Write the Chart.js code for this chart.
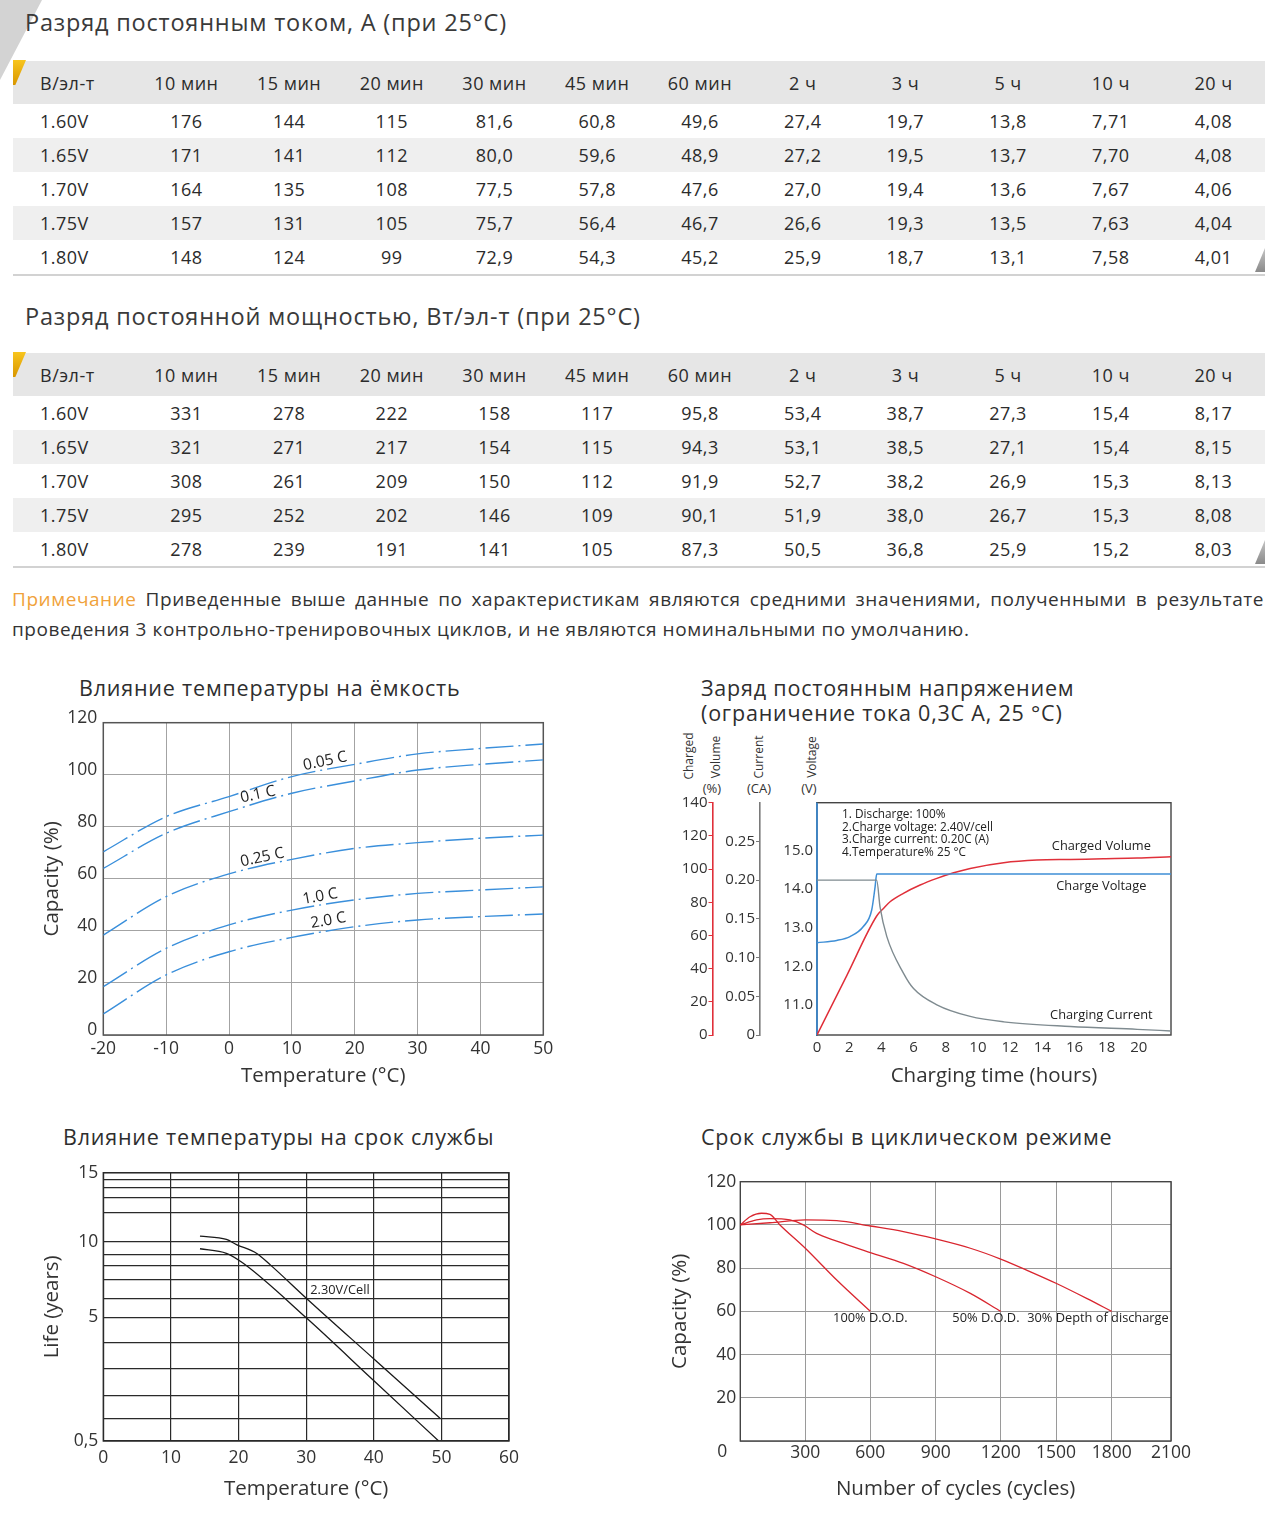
<!DOCTYPE html>
<html><head><meta charset="utf-8">
<script src="https://cdn.jsdelivr.net/npm/chart.js@4"></script>
<style>
body{margin:0;background:#fff;font-family:'Open Sans',sans-serif;color:#333;}
#page{position:relative;width:1280px;height:1520px;overflow:hidden;}
.abs{position:absolute;white-space:nowrap;}
.ttl{font-size:23.5px;line-height:26px;color:#3a3a3a;letter-spacing:0.8px;}
.ctitle{font-size:21.5px;line-height:25px;color:#2e2e2e;letter-spacing:0.8px;}
.tbl{position:absolute;left:13px;width:1252px;}
.tbl table{width:1252px;border-collapse:collapse;table-layout:fixed;font-size:18px;color:#2b2b2b;letter-spacing:0.5px;}
.tbl th{background:#e6e6e6;font-weight:400;height:43px;padding:0;text-align:center;}
.tbl td{height:34px;padding:0;text-align:center;}
.tbl tbody tr:nth-child(even) td{background:#efefef;}
.tbl .c0{text-align:left;padding-left:27px;}
.tbl tbody tr:last-child td{border-bottom:2px solid #d2d2d2;}
.note{position:absolute;left:12px;width:1252px;font-size:19px;line-height:30px;color:#333;letter-spacing:0.55px;}
.rot{position:absolute;font-size:12px;color:#333;transform:translate(-50%,-50%) rotate(-90deg);white-space:nowrap;}
.unit{position:absolute;font-size:13px;color:#333;transform:translate(-50%,-50%);white-space:nowrap;}
</style>
</head><body>
<div id="page">
  <div class="abs" style="left:0;top:0;width:42px;height:80px;background:#d3d3d3;clip-path:polygon(0 0,100% 0,0 100%);"></div>
  <div class="abs ttl" style="left:25px;top:9px;">Разряд постоянным током, А (при 25°С)</div>
  <div class="tbl" id="t1" style="top:61px;"></div>
  <div class="abs" style="left:13px;top:60px;width:13px;height:25px;background:linear-gradient(#f8c51e,#d89600);clip-path:polygon(0 0,100% 0,18% 100%,0 100%);"></div>
  <div class="abs" style="left:1255px;top:248px;width:10px;height:24px;background:linear-gradient(#c4c4c4,#8a8a8a);clip-path:polygon(100% 0,100% 100%,0 100%);"></div>

  <div class="abs ttl" style="left:25px;top:303px;">Разряд постоянной мощностью, Вт/эл-т (при 25°С)</div>
  <div class="tbl" id="t2" style="top:353px;"></div>
  <div class="abs" style="left:13px;top:352px;width:13px;height:25px;background:linear-gradient(#f8c51e,#d89600);clip-path:polygon(0 0,100% 0,18% 100%,0 100%);"></div>
  <div class="abs" style="left:1255px;top:540px;width:10px;height:24px;background:linear-gradient(#c4c4c4,#8a8a8a);clip-path:polygon(100% 0,100% 100%,0 100%);"></div>

  <div class="note" style="top:584px;text-align:justify;text-align-last:justify;"><span style="color:#f0a23a;">Примечание</span> Приведенные выше данные по характеристикам являются средними значениями, полученными в результате</div>
  <div class="note" style="top:614px;">проведения 3 контрольно-тренировочных циклов, и не являются номинальными по умолчанию.</div>

  <div class="abs ctitle" style="left:79px;top:675px;">Влияние температуры на ёмкость</div>
  <div class="abs" style="left:0;top:700px;"><canvas id="c1" width="600" height="400"></canvas></div>

  <div class="abs ctitle" style="left:701px;top:675px;">Заряд постоянным напряжением</div>
  <div class="abs ctitle" style="left:701px;top:700px;">(ограничение тока 0,3С А, 25 °С)</div>
  <div class="rot" style="left:688px;top:756px;">Charged</div>
  <div class="rot" style="left:715px;top:757px;">Volume</div>
  <div class="unit" style="left:712px;top:788px;">(%)</div>
  <div class="rot" style="left:758px;top:757px;">Current</div>
  <div class="unit" style="left:759px;top:788px;">(CA)</div>
  <div class="rot" style="left:811px;top:757px;">Voltage</div>
  <div class="unit" style="left:809px;top:788px;">(V)</div>
  <div class="abs" style="left:670px;top:725px;"><canvas id="c2" width="520" height="375"></canvas></div>

  <div class="abs ctitle" style="left:63px;top:1124px;">Влияние температуры на срок службы</div>
  <div class="abs" style="left:0;top:1150px;"><canvas id="c3" width="600" height="370"></canvas></div>

  <div class="abs ctitle" style="left:701px;top:1124px;">Срок службы в циклическом режиме</div>
  <div class="abs" style="left:640px;top:1150px;"><canvas id="c4" width="560" height="370"></canvas></div>
</div>
<script>
// ---------- table data ----------
const tableCols = ['В/эл-т','10 мин','15 мин','20 мин','30 мин','45 мин','60 мин','2 ч','3 ч','5 ч','10 ч','20 ч'];
const voltRows = ['1.60V','1.65V','1.70V','1.75V','1.80V'];
const currentTable = [
 ['176','144','115','81,6','60,8','49,6','27,4','19,7','13,8','7,71','4,08'],
 ['171','141','112','80,0','59,6','48,9','27,2','19,5','13,7','7,70','4,08'],
 ['164','135','108','77,5','57,8','47,6','27,0','19,4','13,6','7,67','4,06'],
 ['157','131','105','75,7','56,4','46,7','26,6','19,3','13,5','7,63','4,04'],
 ['148','124','99','72,9','54,3','45,2','25,9','18,7','13,1','7,58','4,01']];
const powerTable = [
 ['331','278','222','158','117','95,8','53,4','38,7','27,3','15,4','8,17'],
 ['321','271','217','154','115','94,3','53,1','38,5','27,1','15,4','8,15'],
 ['308','261','209','150','112','91,9','52,7','38,2','26,9','15,3','8,13'],
 ['295','252','202','146','109','90,1','51,9','38,0','26,7','15,3','8,08'],
 ['278','239','191','141','105','87,3','50,5','36,8','25,9','15,2','8,03']];

// ---------- chart 1: capacity vs temperature ----------
const tempC = [-20,-10,0,10,20,30,40,50];
const cap005 = [70.4,83.9,91.6,99.3,104.0,108.0,110.1,111.8];
const cap01  = [64.0,77.5,85.8,92.9,97.6,101.8,104.0,105.7];
const cap025 = [38.4,53.2,61.9,67.5,71.7,73.9,75.6,76.8];
const cap10  = [18.6,33.3,42.3,48.0,51.9,54.4,55.7,56.9];
const cap20  = [8.1,23.1,32.0,37.5,41.6,44.2,45.5,46.5];

// ---------- chart 2: constant voltage charge ----------
const chgT   = [0,1.85,3.71,4.13,4.54,5.37,6.41,7.45,8.49,9.52,11.6,13.67,15.75,17.8,19.9,22];
const chgVol = [0,35.8,71.7,76.3,80.3,85.4,90.4,94.4,97.8,100.4,103.8,105.4,105.8,106.2,106.6,107.4];
const voltT  = [0,1.22,2.05,2.88,3.4,3.61,3.71,22];
const voltV  = [12.61,12.67,12.77,13.03,13.46,14.06,14.39,14.39];
const curT   = [0,3.71,3.92,4.34,5.37,6.0,7.45,9.52,11.6,15.75,19.9,22];
const curA   = [0.2,0.2,0.165,0.127,0.08,0.06,0.039,0.024,0.017,0.011,0.0073,0.0052];
const volTicks = [0,20,40,60,80,100,120,140];
const curTicks = [0,0.05,0.10,0.15,0.20,0.25];
const vTicks   = [11,12,13,14,15];

// ---------- chart 3: life vs temperature ----------
const lifeUpperT = [14.3,18.2,19.7,22.7,24.7,30.1,39.9,49.8];
const lifeUpper  = [10.2,10.09,9.8,9.1,8.1,6.0,3.4,1.0];
const lifeLowerT = [14.3,18.2,20.7,30.1,39.9,49.6];
const lifeLower  = [9.47,9.11,8.24,4.96,2.58,0.5];
const lifeGrid   = [0.5,1,2,3,4,5,6,7,8,9,10,11,12,13,14,15];
const lifeLabels = {15:'15',10:'10',5:'5',0.5:'0,5'};

// ---------- chart 4: cycle life ----------
const dod100X = [0,45,98,137,183,300,445,600];
const dod100Y = [100,103.8,105.4,104.9,100,89.2,74.5,60];
const dod50X  = [0,75,137,229,291,352,445,600,752,900,1060,1200];
const dod50Y  = [100,102.3,102.9,102.3,100,96.1,92.5,87.2,82.2,76,68.3,60];
const dod30X  = [0,137,300,445,600,752,900,1060,1200,1359,1500,1665,1800];
const dod30Y  = [100,101,102.3,102,99.5,96.9,93.5,89.2,84.2,78.4,73,66,60];
const cycleTicks = [0,300,600,900,1200,1500,1800,2100];

// ---------- tables ----------
function buildTable(id, rows){
  let h = '<table><colgroup><col style="width:122px">' + tableCols.slice(1).map(()=>'<col>').join('') + '</colgroup><thead><tr>';
  tableCols.forEach((c,i)=>{ h += '<th class="'+(i===0?'c0':'')+'">'+c+'</th>'; });
  h += '</tr></thead><tbody>';
  rows.forEach((r,ri)=>{ h += '<tr><td class="c0">'+voltRows[ri]+'</td>' + r.map(v=>'<td>'+v+'</td>').join('') + '</tr>'; });
  h += '</tbody></table>';
  document.getElementById(id).innerHTML = h;
}
buildTable('t1', currentTable);
buildTable('t2', powerTable);

// ---------- Chart.js setup ----------
Chart.defaults.font.family = "'Open Sans', sans-serif";
Chart.defaults.color = '#333';

const pieceMaps = {};
class PiecewiseScale extends Chart.LinearScale {
  static id = 'piecewise';
  static defaults = {};
  _map(){ return pieceMaps[this.chart.canvas.id + ':' + this.id]; }
  _dec(v){
    const m = this._map(), b = m.values, f = m.fracs, n = b.length - 1;
    let i = 1;
    while (i < n && v > b[i]) i++;
    return f[i-1] + (v - b[i-1]) / (b[i] - b[i-1]) * (f[i] - f[i-1]);
  }
  getPixelForValue(v){ if (v === null || v === undefined) return NaN; return this.getPixelForDecimal(this._dec(v)); }
  getValueForPixel(p){
    const d = this.getDecimalForPixel(p), m = this._map(), b = m.values, f = m.fracs, n = b.length - 1;
    let i = 1;
    while (i < n && d > f[i]) i++;
    return b[i-1] + (d - f[i-1]) / (f[i] - f[i-1]) * (b[i] - b[i-1]);
  }
}
Chart.register(PiecewiseScale);

function xy(xs, ys){ return xs.map((x,i)=>({x:x, y:ys[i]})); }

function framePlugin(color, width, leftColor){
  return { id:'frame', beforeDatasetsDraw(chart){
    const {ctx, chartArea:a} = chart;
    ctx.save(); ctx.strokeStyle = color; ctx.lineWidth = width;
    ctx.strokeRect(a.left, a.top, a.right-a.left, a.bottom-a.top);
    if (leftColor){ ctx.strokeStyle = leftColor; ctx.lineWidth = 1.6; ctx.beginPath(); ctx.moveTo(a.left, a.top); ctx.lineTo(a.left, a.bottom); ctx.stroke(); }
    ctx.restore();
  }};
}
function textPlugin(items){
  return { id:'notes', afterDatasetsDraw(chart){
    const ctx = chart.ctx;
    items.forEach(it=>{
      const xs = chart.scales[it.xAxis || 'x'], ys = chart.scales[it.yAxis || 'y'];
      const px = xs.getPixelForValue(it.x), py = ys.getPixelForValue(it.y);
      ctx.save(); ctx.translate(px, py); ctx.rotate((it.rot || 0) * Math.PI / 180);
      ctx.font = (it.size || 13) + "px 'Open Sans', sans-serif";
      ctx.fillStyle = it.color || '#222'; ctx.textAlign = it.align || 'center'; ctx.textBaseline = 'middle';
      ctx.fillText(it.text, 0, 0); ctx.restore();
    });
  }};
}
const commonPlugins = { legend:{display:false}, tooltip:{enabled:false} };
const axisTitleFont = {size:20.5};

// ---- chart 1 ----
const blue1 = '#3a8fdb';
function dashed(data){ return {data:data, borderColor:blue1, borderWidth:1.4, borderDash:[28,5,2,5], pointRadius:0, fill:false, cubicInterpolationMode:'monotone'}; }
const c1Labels = [
  {text:'0.05 C', x:15.3, y:105.2, rot:-12, size:15.5},
  {text:'0.1 C',  x:4.6,  y:92.4,  rot:-12, size:15.5},
  {text:'0.25 C', x:5.3,  y:68.2,  rot:-12, size:15.5},
  {text:'1.0 C',  x:14.5, y:53.2,  rot:-10, size:15.5},
  {text:'2.0 C',  x:15.8, y:44.0,  rot:-10, size:15.5}];
new Chart(document.getElementById('c1'), {
  type:'line',
  data:{datasets:[dashed(xy(tempC,cap005)), dashed(xy(tempC,cap01)), dashed(xy(tempC,cap025)), dashed(xy(tempC,cap10)), dashed(xy(tempC,cap20))]},
  options:{ responsive:false, animation:false,
    layout:{padding:{top:22.7, right:56.7, left:0, bottom:0}},
    plugins:commonPlugins,
    scales:{
      x:{type:'linear', min:-20, max:50, ticks:{stepSize:10, padding:4, font:{size:17.5}, color:'#333'},
         grid:{color:'#a3a3a3', drawTicks:false}, border:{display:false},
         title:{display:true, text:'Temperature (°C)', font:axisTitleFont, color:'#333', padding:{top:0,bottom:12}},
         afterFit(s){ s.height = 65; }},
      y:{type:'linear', min:0, max:120, ticks:{stepSize:20, padding:6, labelOffset:-5, font:{size:17.5}, color:'#333'},
         grid:{color:'#a3a3a3', drawTicks:false}, border:{display:false},
         title:{display:true, text:'Capacity (%)', font:axisTitleFont, color:'#333', padding:{top:40,bottom:0}},
         afterFit(s){ s.width = 103.3; }}
    }},
  plugins:[framePlugin('#555',1.5), textPlugin(c1Labels)]
});

// ---- chart 2 ----
const red2 = '#e0303a', gray2 = '#7f8b90', blue2 = '#3f8fd6';
const c2Labels = [
  {text:'1. Discharge: 100%', x:1.56, y:15.92, yAxis:'yV', align:'left', size:11.8},
  {text:'2.Charge voltage: 2.40V/cell', x:1.56, y:15.59, yAxis:'yV', align:'left', size:11.8},
  {text:'3.Charge current: 0.20C (A)', x:1.56, y:15.27, yAxis:'yV', align:'left', size:11.8},
  {text:'4.Temperature% 25 °C', x:1.56, y:14.94, yAxis:'yV', align:'left', size:11.8},
  {text:'Charged Volume', x:17.67, y:15.12, yAxis:'yV', size:12.8},
  {text:'Charge Voltage', x:17.67, y:14.06, yAxis:'yV', size:12.8},
  {text:'Charging Current', x:17.67, y:10.74, yAxis:'yV', size:12.8}];
function sideAxis(color, weight, width, ticksArr, fmt, pad, tickLen, min, max){
  return {type:'linear', position:'left', weight:weight, min:min, max:max,
    afterBuildTicks(s){ s.ticks = ticksArr.map(v=>({value:v})); },
    ticks:{callback:fmt, padding:pad, font:{size:15}, color:'#333', autoSkip:false},
    grid:{drawOnChartArea:false, drawTicks:tickLen>0, tickLength:tickLen, color:color},
    border:{color:color, width:1.6},
    afterFit(s){ s.width = width; }};
}
new Chart(document.getElementById('c2'), {
  type:'line',
  data:{datasets:[
    {data:xy(curT,curA), yAxisID:'yCur', borderColor:gray2, borderWidth:1.4, pointRadius:0, cubicInterpolationMode:'monotone'},
    {data:xy(voltT,voltV), yAxisID:'yV', borderColor:blue2, borderWidth:1.5, pointRadius:0, cubicInterpolationMode:'monotone'},
    {data:xy(chgT,chgVol), yAxisID:'yVol', borderColor:red2, borderWidth:1.5, pointRadius:0, cubicInterpolationMode:'monotone'}
  ]},
  options:{ responsive:false, animation:false,
    layout:{padding:{top:77.7, right:19, left:0, bottom:0}},
    plugins:commonPlugins,
    scales:{
      x:{type:'linear', min:0, max:22, ticks:{stepSize:2, padding:4, font:{size:15}, color:'#333', callback:v=> v>20 ? '' : v},
         grid:{display:false, drawTicks:false}, border:{display:false},
         title:{display:true, text:'Charging time (hours)', font:axisTitleFont, color:'#333', padding:{top:0,bottom:12}},
         afterFit(s){ s.height = 65; }},
      yVol: sideAxis(red2, 3, 42.5, volTicks, v=>String(v), 1, 4, 0, 140),
      yCur: sideAxis('#7a7a7a', 2, 47.5, curTicks, v=> v===0 ? '0' : v.toFixed(2), 1, 4, 0, 0.3),
      yV:   sideAxis(blue2, 1, 57, vTicks, v=> v.toFixed(1), 4, 0, 10.22, 16.24)
    }},
  plugins:[framePlugin('#444',1.4, blue2), textPlugin(c2Labels)]
});

// ---- chart 3 ----
pieceMaps['c3:y'] = {values: lifeGrid,
  fracs:[0,0.0845,0.169,0.2696,0.3665,0.4609,0.5304,0.6,0.6522,0.6944,0.7416,0.8509,0.9068,0.9441,0.9727,1]};
const c3Labels = [{text:'2.30V/Cell', x:35.0, y:6.47, size:12.8}];
new Chart(document.getElementById('c3'), {
  type:'line',
  data:{datasets:[
    {data:xy(lifeUpperT,lifeUpper), borderColor:'#1a1a1a', borderWidth:1.3, pointRadius:0, cubicInterpolationMode:'monotone'},
    {data:xy(lifeLowerT,lifeLower), borderColor:'#1a1a1a', borderWidth:1.3, pointRadius:0, cubicInterpolationMode:'monotone'}
  ]},
  options:{ responsive:false, animation:false,
    layout:{padding:{top:22.7, right:91, left:0, bottom:0}},
    plugins:commonPlugins,
    scales:{
      x:{type:'linear', min:0, max:60, ticks:{stepSize:10, padding:7, font:{size:17.5}, color:'#333'},
         grid:{color:'#2a2a2a', lineWidth:1.2, drawTicks:false}, border:{display:false},
         title:{display:true, text:'Temperature (°C)', font:axisTitleFont, color:'#333', padding:{top:0,bottom:19}},
         afterFit(s){ s.height = 79; }},
      y:{type:'piecewise', min:0.5, max:15,
         afterBuildTicks(s){ s.ticks = lifeGrid.map(v=>({value:v})); },
         ticks:{autoSkip:false, padding:5, font:{size:17.5}, color:'#333', callback:v=> lifeLabels[v] || ''},
         grid:{color:'#2a2a2a', lineWidth:1.2, drawTicks:false}, border:{display:false},
         title:{display:true, text:'Life (years)', font:axisTitleFont, color:'#333', padding:{top:40,bottom:0}},
         afterFit(s){ s.width = 103.3; }}
    }},
  plugins:[framePlugin('#2a2a2a',1.4), textPlugin(c3Labels)]
});

// ---- chart 4 ----
pieceMaps['c4:x'] = {values: cycleTicks, fracs:[0,0.1509,0.3019,0.4536,0.6045,0.7330,0.8622,1]};
const red4 = '#d9262f';
const c4Labels = [
  {text:'100% D.O.D.', x:600, y:56.9, size:12.8},
  {text:'50% D.O.D.', x:1132, y:56.9, size:12.8},
  {text:'30% Depth of discharge', x:1726, y:56.9, size:12.8}];
const zeroLabel = { id:'zero', afterDraw(chart){
  const ctx = chart.ctx, a = chart.chartArea;
  ctx.save(); ctx.font = "17.5px 'Open Sans', sans-serif"; ctx.fillStyle = '#333';
  ctx.textAlign = 'center'; ctx.textBaseline = 'middle'; ctx.fillText('0', a.left - 18, a.bottom + 11); ctx.restore();
}};
new Chart(document.getElementById('c4'), {
  type:'line',
  data:{datasets:[
    {data:xy(dod100X,dod100Y), borderColor:red4, borderWidth:1.3, pointRadius:0, cubicInterpolationMode:'monotone'},
    {data:xy(dod50X,dod50Y), borderColor:red4, borderWidth:1.3, pointRadius:0, cubicInterpolationMode:'monotone'},
    {data:xy(dod30X,dod30Y), borderColor:red4, borderWidth:1.3, pointRadius:0, cubicInterpolationMode:'monotone'}
  ]},
  options:{ responsive:false, animation:false,
    layout:{padding:{top:31.7, right:29, left:0, bottom:0}},
    plugins:commonPlugins,
    scales:{
      x:{type:'piecewise', min:0, max:2100,
         afterBuildTicks(s){ s.ticks = cycleTicks.map(v=>({value:v})); },
         ticks:{autoSkip:false, maxRotation:0, padding:2, font:{size:17.5}, color:'#333', callback:v=> v===0 ? '' : String(v)},
         grid:{color:'#9a9a9a', drawTicks:false}, border:{display:false},
         title:{display:true, text:'Number of cycles (cycles)', font:axisTitleFont, color:'#333', padding:{top:0,bottom:19}},
         afterFit(s){ s.height = 79; }},
      y:{type:'linear', min:0, max:120, ticks:{stepSize:20, padding:4, font:{size:17.5}, color:'#333', callback:v=> v===0 ? '' : String(v)},
         grid:{color:'#9a9a9a', drawTicks:false}, border:{display:false},
         title:{display:true, text:'Capacity (%)', font:axisTitleFont, color:'#333', padding:{top:28,bottom:0}},
         afterFit(s){ s.width = 100.3; }}
    }},
  plugins:[framePlugin('#444',1.4), textPlugin(c4Labels), zeroLabel]
});
</script>
</body></html>
